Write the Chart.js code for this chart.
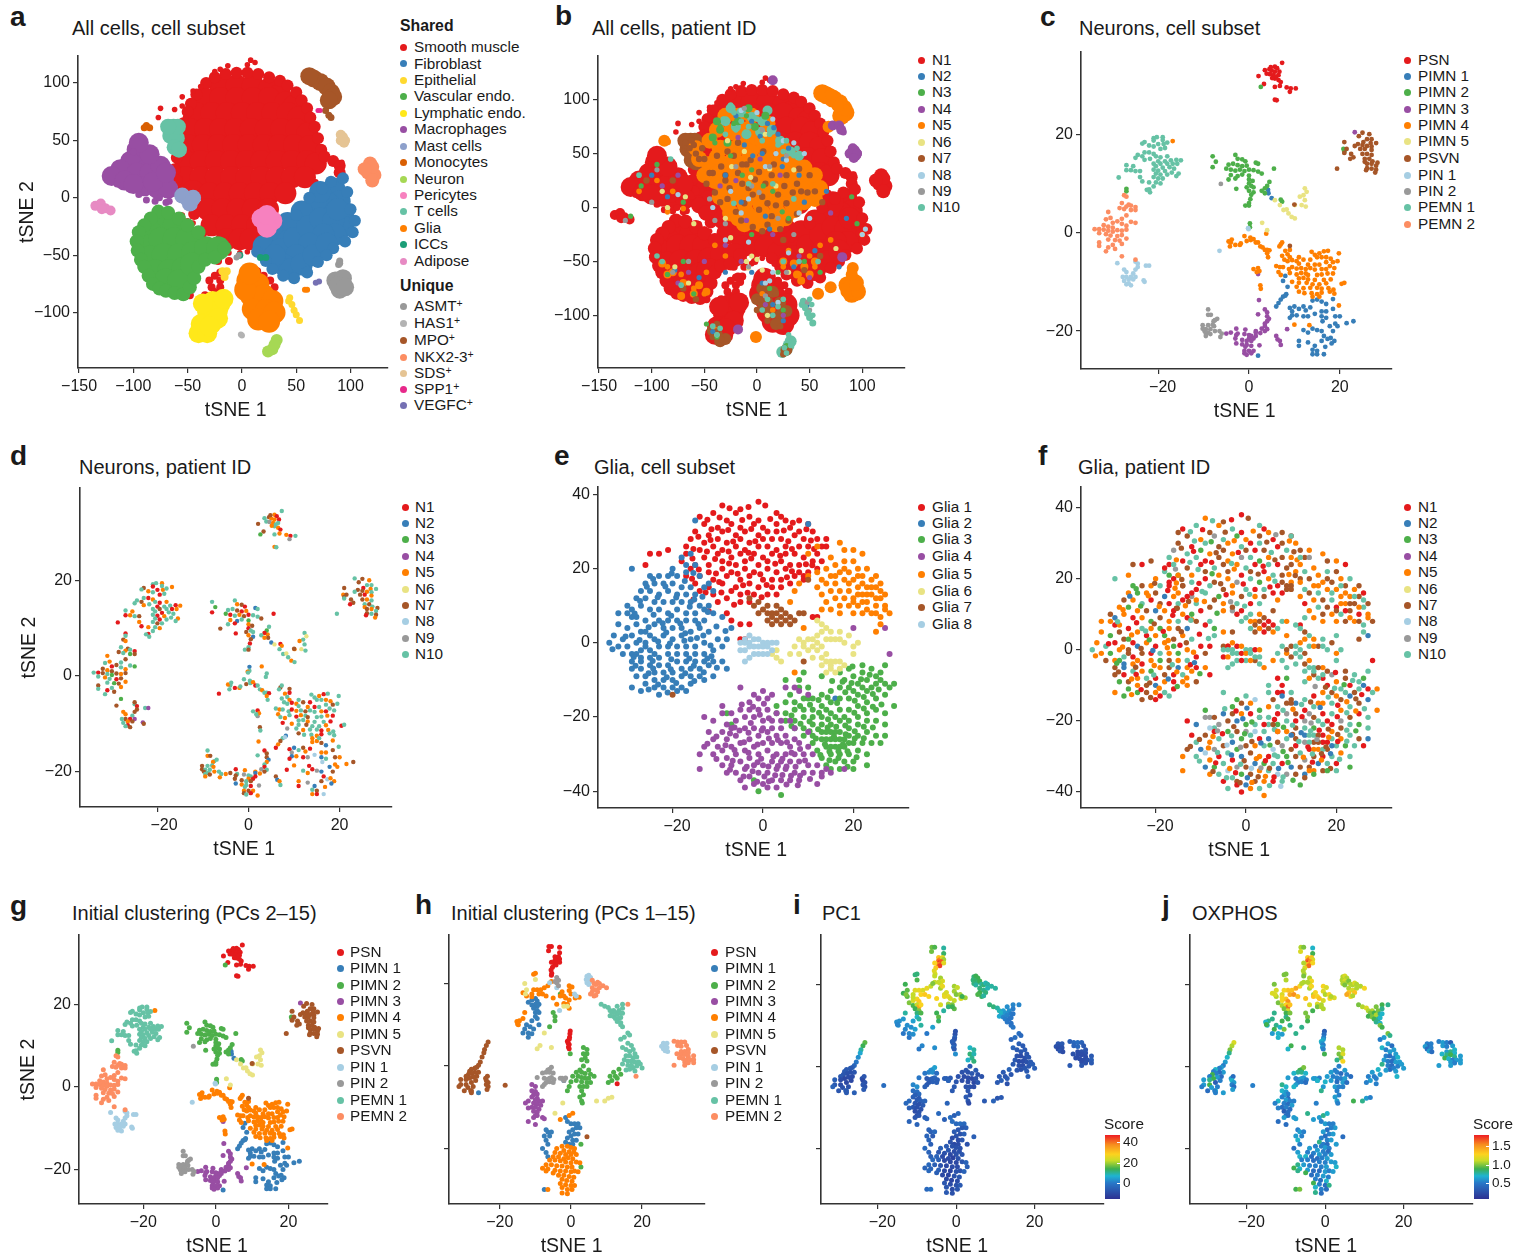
<!DOCTYPE html>
<html><head><meta charset="utf-8">
<script src="https://cdn.jsdelivr.net/npm/chart.js@4"></script>
<style>
html,body{margin:0;padding:0;background:#fff;width:1529px;height:1254px;overflow:hidden;font-family:"Liberation Sans",Arial,sans-serif;color:#1a1a1a}
canvas{position:absolute}
.t{position:absolute;white-space:nowrap}
.lt{font-size:20px}.ll{font-size:28px;font-weight:bold;line-height:28px}
.li{font-size:15.3px;line-height:18px}
.d{position:absolute;width:7px;height:7px;border-radius:50%}
sup{font-size:10.5px;line-height:0;vertical-align:4px}
</style></head><body>
<script>
/* ---------- colours ---------- */
const RED='#E41A1C',BLUE='#377EB8',GREEN='#4DAF4A',PURPLE='#984EA3',ORANGE='#FF7F00',KHAKI='#E9E383',BROWN='#A65628',LBLUE='#A6CEE3',GREY='#999999',TEAL='#66C2A5',SALMON='#FC8D62';
const patientColors=[TEAL,RED,BLUE,GREEN,PURPLE,ORANGE,KHAKI,BROWN,LBLUE,GREY];
/* ---------- labels ---------- */
const sharedLabels=['Smooth muscle','Fibroblast','Epithelial','Vascular endo.','Lymphatic endo.','Macrophages','Mast cells','Monocytes','Neuron','Pericytes','T cells','Glia','ICCs','Adipose'];
const sharedColors=[RED,BLUE,'#FFD92F',GREEN,'#FFE81A',PURPLE,'#8DA0CB','#D95F02','#A6D854','#F781BF',TEAL,ORANGE,'#1B9E77','#E78AC3'];
const uniqueLabels=['ASMT<sup>+</sup>','HAS1<sup>+</sup>','MPO<sup>+</sup>','NKX2-3<sup>+</sup>','SDS<sup>+</sup>','SPP1<sup>+</sup>','VEGFC<sup>+</sup>'];
const uniqueColors=[GREY,'#B3B3B3',BROWN,SALMON,'#E5C494','#E7298A','#7570B3'];
const patientLabels=['N1','N2','N3','N4','N5','N6','N7','N8','N9','N10'];
const patientLegendColors=[RED,BLUE,GREEN,PURPLE,ORANGE,KHAKI,BROWN,LBLUE,GREY,TEAL];
const neuronLabels=['PSN','PIMN 1','PIMN 2','PIMN 3','PIMN 4','PIMN 5','PSVN','PIN 1','PIN 2','PEMN 1','PEMN 2'];
const neuronColors=[RED,BLUE,GREEN,PURPLE,ORANGE,KHAKI,BROWN,LBLUE,GREY,TEAL,SALMON];
const gliaLabels=['Glia 1','Glia 2','Glia 3','Glia 4','Glia 5','Glia 6','Glia 7','Glia 8'];
const gliaColors=[RED,BLUE,GREEN,PURPLE,ORANGE,KHAKI,BROWN,LBLUE];
/* ---------- all cells (panels a, b) : x,y pairs ---------- */
const smCore=[-20,97,-5,98,10,98,25,95,35,90,-35,87,-20,87,-5,87,10,87,25,87,40,83,48,80,-42,74,-28,74,-14,74,0,74,14,74,28,74,42,74,52,70,-48,60,-34,60,-20,60,-6,60,8,60,22,60,36,60,50,60,60,56,-50,46,-36,46,-22,46,-8,46,6,46,20,46,34,46,48,46,62,45,-52,32,-38,32,-24,32,-10,32,4,32,18,32,32,32,46,32,60,32,68,30,-52,18,-38,18,-24,18,-10,18,4,18,18,18,32,18,46,18,58,18,-45,6,-30,4,-16,4,-2,4,12,4,26,4,40,4,-32,-10,-18,-10,-4,-10,10,-10,24,-10,-28,-24,-14,-24,0,-24,14,-24,-14,-36,-2,-36,8,-36];
const smRim=[-33,100,-25,105,-15,108,-5,109,5,109,15,108,25,105,35,102,42,98,50,92,55,85,60,78,63,70,67,62,70,52,73,42,76,36,84,32,90,28,90,22,-42,90,-47,82,-50,75,-54,65,-57,55,-59,45,-60,35,-62,25,-60,15,-56,6,-48,-5,-44,-14];
const smEdge=[8,120,12,118,-20,112,-13,115,5,116,-25,110,-38,97,-45,93,-55,88,-55,80,-62,77,-75,78,-77,70,-52,70,-45,-22,-55,-15,-50,-20,-40,-27,-35,-32,92,31,68,14,-12,-48,-2,-48,5,-47,-30,-41,-38,-42,-64,18,-62,8];
const smLower=[-20,-65,-25,-68,-30,-72,-28,-78,-25,-82,-20,-78,-15,-86,-18,-92,-28,-90,-34,-85,-20,-72,14,-64,20,-68,26,-72,30,-78,-12,-55,-22,-55,-48,-85,-66,-30,-50,-25,-40,-34];
const fibroCore=[85,8,90,-3,93,-15,93,-25,80,-5,68,-3,55,-12,42,-22,30,-33,20,-42,35,-45,48,-35,60,-25,72,-18,84,-20,86,-32,75,-32,62,-40,50,-50,38,-58,45,-62,55,-58,66,-50,30,-50,72,5,88,-10,78,-40];
const fibroEdge=[93,17,97,5,100,-10,104,-20,102,-30,95,-38,84,-44,78,-50,70,-56,60,-65,48,-70,38,-68,28,-62,22,-55,14,-47,32,-27,50,-15,62,0,82,14,74,8];
const vascCore=[-75,-22,-62,-24,-85,-30,-88,-42,-75,-36,-62,-36,-50,-36,-85,-52,-72,-50,-58,-50,-45,-48,-33,-44,-22,-44,-80,-64,-67,-64,-54,-62,-70,-72,-58,-73,-46,-58];
const vascEdge=[-77,-12,-68,-13,-84,-18,-90,-24,-95,-30,-97,-38,-96,-46,-93,-54,-90,-60,-86,-68,-82,-75,-76,-79,-70,-81,-62,-83,-54,-84,-48,-78,-44,-70,-40,-60,-34,-54,-25,-52,-16,-44,-58,-18,-50,-24,-40,-30];
const lymphCore=[-27,-90,-22,-98,-32,-100,-38,-110,-28,-110,-40,-118,-32,-118,-20,-93,-17,-88,-22,-105,-36,-92,-30,-112];
const epiSmall=[-16,-66,-14,-64,-18,-64,-16,-69];
const epiStrip=[43,-90,46,-93,48,-98,50,-102,53,-107,44,-87];
const gliaCore=[5,-72,15,-75,8,-85,20,-85,28,-90,10,-97,22,-98,30,-100,15,-106,25,-108,3,-80,7,-66];
const macroCore=[-97,42,-90,35,-103,32,-112,25,-97,22,-85,22,-75,28,-72,15,-120,19,-108,15,-90,10,-78,8,-68,8,-85,38,-100,12,-95,48,-82,14,-70,22];
const macroSmall=[-95,3,-88,-2,-80,-3,-70,-4,-67,-3,-76,0,-62,4,-100,40,-115,12];
const tcellCore=[-63,62,-66,54,-60,52,-62,44,-59,62,-58,42,-68,62];
const mastCore=[-50,-1,-45,0,-55,2,-48,-5];
const monoCore=[-88,63,-85,61,-90,61];
const mpoCore=[66,104,72,101,78,97,82,92,84,88,62,106,80,85];
const mpoSmall=[77,76,80,72,82,70];
const sppSmall=[72,76,70,76];
const sdsCore=[93,53,91,50,95,50,91,55,94,48];
const nkxCore=[118,30,116,22,122,20,120,27,113,25,120,15];
const adiCore=[-135,-7,-130,-5,-126,-9,-121,-11,-129,-10];
const asmtCore=[86,-72,93,-70,90,-80,88,-76,95,-78];
const asmtSmall=[90,-57,89,-58,90,-55];
const neuronCore=[28,-132,24,-134,32,-124,30,-128];
const has1Small=[0,-120,-1,-119];
const periCore=[18,-18,28,-20,23,-26,23,-15];
const vegfcSmall=[68,-74,71,-73];
const gliaDots=[58,-80,60,-80];
const iccDots=[17,-52,22,-52,-2,-50];
const greyDots=[-5,-52,-3,-50];
/* patient overlay (panel b) */
const b5Core=[-25,70,-10,72,-35,55,-20,55,-5,55,10,55,-45,40,-30,40,-15,40,0,40,15,40,30,40,-40,25,-25,25,-10,25,5,25,20,25,35,25,48,25,-35,10,-20,10,-5,10,10,10,25,10,40,10,50,15,-25,-5,-10,-5,5,-5,20,-5,35,-2,-12,-15,3,-15,18,-15,-15,62,0,65];
const b5Fill=[-38,47,-22,47,-7,47,8,47,23,47,-38,32,-22,32,-7,32,8,32,23,32,38,32,-32,17,-17,17,-2,17,13,17,28,17,43,17,-28,3,-12,3,3,3,18,3,33,3,45,5,-18,-10,-3,-10,12,-10,27,-10,5,62,15,62,25,55,35,45,45,37,55,30,60,18,55,8,-50,30,-55,45,-58,55,-45,62,-38,72,-30,85,-18,85,-5,85,10,78];
const b5Far=[90,-80,85,-78,95,-78,88,-72,93,-72,90,-62,91,-56,68,75,75,102,80,98,84,90,70,105,77,94,58,-80,70,-74,-1,-120,-88,62];
const b5Lower=[-90,-52,-80,-60,-70,-70,-60,-80,-55,-72,-85,-62,-48,-78,-72,-82,25,-50,35,-52,45,-55,50,-62,42,-68,55,-50,38,-62];
const b7Mix=[5,-75,15,-78,10,-88,22,-88,28,-96,12,-98,22,-100,-38,-118,-42,-114,-35,-124,-30,-122,28,-132,0,-85,18,-108,6,-92];
const b10Top=[-25,92,-15,88,-5,84,5,80,-30,80,-20,75,-10,68,3,70,14,72,22,62,32,52,40,48,10,90];
const b3Top=[-35,72,-42,65,-28,60,-38,80,-18,80,-8,92,-2,75,8,85];
const b4Far=[92,52,88,50,95,50,92,46,72,76,78,76,80,72,15,118,-18,-113,81,-46];
const b5Dots=[-85,-55,-72,-62,-60,-75,-50,-80,25,-55,40,-62,55,-55,50,-45,-40,-35,-95,25,-80,15,-70,-1,15,-95,5,-80,-40,-112,-30,-45,-48,-60,60,-35,70,-30,100,-25,30,-40,-85,-4,-112,15];
const b2Dots=[-20,85,-5,80,10,78,20,68,30,55,-30,30,5,50,25,45,40,30,-15,5,8,-8,45,5,-78,-58,-55,-65,5,-70,15,-90,25,-105,35,-55,55,-40,85,-10,-100,30,-30,-60,-42,-115,-85,10,48,-90,-5,-60,66,15,78,-55,12,-20,16,74,3,66,-12,58,24,38,-4,48];
const b3Dots=[-35,75,-22,78,-10,85,-40,60,-25,48,-5,35,15,15,30,-10,-5,-25,-70,-50,-85,-62,-60,-80,12,-75,25,-95,-38,-120,45,-50,60,-60,-95,40,-110,20,-70,5,90,10,95,-15,20,-60,-120,-8,28,-128,-48,-108,-14,30,6,20,24,-4];
const b4Dots=[-18,65,3,45,22,30,-35,20,-10,-12,15,-25,-75,-70,-50,-50,8,-90,40,-45,-90,20,-75,30,70,-5,-30,-35,50,-65,-20,25,25,-100,-65,-60,-15,-50];
const b6Dots=[-28,62,-12,52,8,68,18,20,35,35,-30,-10,-5,-45,-10,-50,-8,-56,0,-48,-78,-55,-65,-70,-90,15,-85,0,-68,10,5,-58,30,-60,10,-100,42,-40,-60,-15,-25,-28,-38,-118,75,-38,-6,28,12,36,-24,38];
const b7Dots=[-50,45,-42,32,-30,25,-18,32,-8,18,5,10,18,2,30,-12,42,15,50,30,-35,5,-15,-12,5,-22,25,-30,-62,62,-64,55,-58,50,-66,48,-60,58,-55,45,-68,60,-52,55,-38,-115,-34,-122,-42,-120,-38,-108,0,-95,10,-105,22,-110,18,-80,28,-95,3,-85,60,-45,45,-58,-70,-75,-58,-85,-80,25,-105,25,55,15,62,5,30,-132,25,-136,-22,48,-10,40,2,33,14,30,26,20,38,22,-28,8,-12,4,2,-2,14,-8,28,4,-40,14,-45,32,-34,38,-26,18,-14,22,-4,12,8,22,20,12,34,14,-20,-4,-4,-18,10,-16,22,-20,-6,44,6,52,-18,60,-28,52,-38,48,16,40,28,30,40,36,48,14,38,-6,-30,30,-48,22,-14,40,-2,26,10,4];
const b8Dots=[-15,90,0,88,15,82,25,62,35,60,45,50,-25,15,-15,-5,40,-5,50,-10,15,-60,8,-70,20,-88,100,-25,103,-20,-75,12,-42,0,-30,-30,-8,-32,12,-68,30,-42,18,50,28,44,8,38,-8,8];
const b9Dots=[-12,92,5,72,28,48,-5,20,20,-10,-40,-12,-80,-60,-65,-50,-125,-12,-100,5,8,-82,28,-60,48,-88,50,-95,-95,35,-8,-55,12,38,-45,8,35,-25,-20,38,2,14,-30,-15];
const b10Dots=[-25,95,-22,88,-15,80,-8,75,0,82,5,62,12,68,20,58,25,52,35,48,38,55,28,62,-32,82,-30,68,-20,72,52,-90,50,-85,46,-92,53,-100,49,-97,15,-100,20,-92,10,-85,5,-95,25,-85,30,-118,28,-135,26,-130,32,-128,-42,-110,-38,-118,-35,-112,40,-50,58,-50,25,-50,-95,-45,-90,-50,-72,-72,-112,30,-82,45,-8,22,15,22,-22,4,35,8];
/* ---------- neurons, embedding of c, d, g : x,y pairs ---------- */
const nPSN=[7.3,34.5,5.7,33.7,6.2,33.4,4.5,33.2,3.5,33,5,32.9,5.7,32.7,6.7,32.7,3.9,32.3,4.6,32.2,5.4,32,6.5,32,2.1,31.8,5.7,31.3,6.5,31,7,30.6,3.3,30.2,5.7,29.6,6.8,29.8,8.3,29.5,9.2,29.3,10.3,29.3,9,28.6,5.7,27,6.1,26.9,4.8,33.6,6,31.7,5.1,31.4];
const nPIMN1=[4.2,8.7,4.3,8,5,7,8,-8.8,7.5,-9.8,8.5,-11,8.2,-12.5,7.5,-13,7,-13.6,6.5,-14.3,6,-15,8,-12.8,14,-13.8,15,-13.6,16,-14,17,-14.5,18.5,-13.5,9,-15.3,9.5,-16,10,-15,11,-15.5,12,-15,12.5,-15.8,13.5,-15.2,14.5,-16.5,16,-16,17,-16,18.5,-15.5,9.5,-16.8,10.5,-16.8,12,-17,13,-17,16,-17,17,-17.3,19,-17,20,-17,9,-17.3,16.2,-18,19,-18.5,21.5,-18.4,23,-18,17.8,-19,19.5,-19,14,-19.5,15,-19.8,16,-20,12,-19.8,18.5,-20,13,-20.3,16.5,-21,17.3,-21.6,18,-21.4,18.8,-22,16,-22,18.2,-22.5,11,-22,11,-23,13,-22.3,14.5,-23,14,-23.8,15,-24,14,-24.7,15,-24.7,16.5,-24.7,16.8,-23.2,2,-25];
const nPIMN2=[-8,15.5,-7.3,14.4,-8,13.3,-3,15.8,-2.5,15,-1.5,14.9,-0.8,14.5,-3.5,14,-4.5,13.8,-2.5,13.7,-1.5,13.5,-0.5,13.6,1.5,14.2,2,14,-5,13,-4,12.8,-3,12.6,-2,12.8,-1,12.5,0,12.8,1,12.7,2,12.4,2.8,12,5.5,13,-4,11.7,-2.5,11.5,-1.5,11.8,0,11.6,-3,11,-4.5,10.8,0,10.8,0.8,10.5,0,10,0.5,9.5,1,9.2,-0.5,9.2,-2.8,8.9,0,8.5,1,8.2,4.5,10.3,4,9.5,3.5,9,2.8,8.5,3.5,8,0.5,7.7,0.3,6.8,0,6,-0.8,5.5,0,5.5,7,6.7,7.3,6.3,0.2,1.9,0.2,1.1,2.6,29.6,-27,8.9,-27,8.4,20.8,17,21,16.5];
const nPIMN3=[2.2,-13.7,3.5,-15.6,4,-16.2,2,-16.6,4,-17,4.4,-17.5,4,-18,3.5,-18.5,3.5,-19,2.8,-19.5,4,-19.6,1.5,-20,3.5,-20,-0.8,-19.7,-2.8,-19.5,-4,-20.3,-2.5,-20.5,-2.8,-20.8,1.5,-20.3,2.5,-20.4,0.5,-21,1.5,-21,-1,-20.6,0,-20.8,-5,-20.5,-3,-21.5,0,-21.5,1,-21.5,-1.5,-21.8,-0.5,-22,0.5,-22,-2.8,-22.5,-1.5,-22.7,-0.5,-22.8,0.5,-23,2.3,-22.9,-0.8,-23.2,-1,-24,0,-24,1,-24,0.5,-24.5,-1,-24.5,-0.5,-24.8,6,-21,6.3,-21.7,6.8,-22,7,-22.8,8.4,-19.6,2,-8.4,23.3,20.4];
const nPIMN4=[-4,-2,-4.5,-1.8,-3.8,-1.4,-4.2,-2.8,-3,-2.5,-2,-2.5,-1.8,-2.2,-0.5,-1.7,0.3,-1,0.4,-1.5,1,-1.3,1.5,-2,2,-2,2.5,-2.8,3,-3,3.5,-3.5,4,-3.5,4.5,-3.6,4,-4.2,4.2,-5,7,-2.4,7.3,-2,6.7,-2.8,8,-3.7,9,-3.5,8.5,-4.4,7.3,-4.7,9,-5,7.8,-5.5,8.5,-5.8,9.5,-5.6,10.5,-5.8,11,-5,12,-5.5,13.8,-3.9,14.5,-4.5,15.5,-4.2,16.5,-3.8,17.4,-3.7,19.8,-4.2,17,-5,16,-5,15,-5,13.5,-5.5,18,-5.3,17,-6,18.5,-6,19.5,-5.8,11,-6.3,13,-6.5,14.5,-6.5,15.5,-6.5,6,-6.8,6.8,-7,7.5,-7,8.8,-7.4,9.5,-7,10.5,-7.3,11.5,-7.2,12.5,-7.4,13.5,-7.2,14.5,-7.5,16,-7.4,17,-7.4,17.8,-6.8,18.8,-7.2,6.5,-8,7,-8.6,9,-8.2,10.5,-8.5,11.5,-8.2,12.5,-8.3,13,-8.6,15,-8.6,16,-8.5,17.3,-8.3,18.5,-8.3,11,-9.3,12,-9.2,13,-9.5,14.5,-9.6,16.5,-9.6,18,-9.5,9.5,-10,11,-10.2,12.7,-10.2,14,-10.5,15.5,-10.5,17,-10.3,20.4,-10.4,21,-10.2,10.5,-11,12,-11.3,13.5,-11.2,15,-11.2,16,-11.4,17.5,-11.3,18.6,-11.6,11,-12,12.2,-12.3,13.8,-12.3,15,-12.5,16,-12.2,17.8,-12,18.8,-12.4,14,-13,15.5,-13,1,-7.4,2,-7.2,2.3,-7.8,1.7,-8,2.5,-10.7,2.6,-11.4,19.8,-14.8,10,-18.7,13.3,-18.8,-1,-0.7,3.8,-0.2,-16.8,18.6];
const nPIMN5=[12.3,9,12.7,8.3,12,7.6,11.2,7.3,12.3,6.6,11.6,5.6,12.5,5.3,10.1,5.6,7.6,4.6,8.3,4.7,8.7,3.9,9.4,3.2,10.1,2.9,5.7,6.6,6.8,5.6,2.9,2,4,0.5];
const nPSVN=[25,20.3,26.5,20,27,19,24.2,19.6,26,19,21,18.4,25.2,18.4,26.8,18.2,28,18.2,24,18,25,17.8,26,17.6,27,17.5,21.5,17,23.3,17.6,24.5,17,25.5,17,27,16.8,21,16.2,22.5,16,25,16,26,16,27,15.8,23,15.3,25.5,15,26.5,15,22.3,15,25.5,14.4,27.2,14.5,28.3,14.2,26,14,27,14,28,13.6,26,13.1,27,13,28,12.8,25.8,12.7,27.8,12.2,19.4,13,10,5.7,9,-2.7];
const nPIN1=[-29,-6.2,-27.5,-7.5,-25,-5.9,-24.5,-6.3,-24.5,-7,-22.7,-6.7,-22,-6.7,-25,-7.5,-27,-8,-25.5,-8.3,-26,-9,-27,-9,-27.8,-9,-25,-9,-25.5,-9.5,-26.5,-9.5,-27.5,-9.8,-26.5,-10.3,-26,-10.7,-27,-10.5,-23.2,-9.7,-23,-10,-0.2,0.9,-0.1,0.7,-6.5,-3.7];
const nPIN2=[-9,-15.6,-9,-16.7,-8.4,-16.7,-7,-17.5,-7.5,-17.8,-7.8,-18,-10.2,-18.8,-9,-18.8,-8,-18.7,-7.7,-19,-10.2,-19.5,-9.5,-19.6,-8.5,-19.6,-7.5,-20,-9.8,-20,-9,-20.3,-9.5,-20.5,-9.5,-21,-8.5,-20.6,-6.5,-20,-6,-20.5,-6.3,-21.2,-6.2,9.9];
const nPEMN1=[-21,19.2,-20.3,19.4,-21,18.7,-19,19.4,-19,18.8,-23,18.4,-23.5,18.1,-20,18,-18.8,18,-18,18.3,-22,17.7,-21,17.5,-19.5,17,-18.5,17.2,-23,16.3,-22,16.3,-21,16,-24.5,15.8,-23.5,15.5,-20.5,15.5,-19.5,15.3,-18,15.5,-25,15.2,-23,14.8,-21.8,15,-20,14.5,-18.5,14.5,-17.2,14.7,-16,14.8,-15,14.7,-21,14,-19.5,14,-18,14,-16.8,14,-15.8,14,-27,13.7,-25.5,13.5,-20.5,13.5,-19,13.2,-17.5,13.3,-16.5,13,-27,12.7,-26,12.7,-25,12.5,-24,12.5,-21,12.8,-20,12.6,-18.5,12.5,-17,12.2,-15.5,12,-20.5,12,-19.5,11.8,-18,11.8,-16,11.5,-28.7,11.2,-24,11.3,-21,11.3,-20,11,-19,11,-23.5,10.4,-22,10.2,-20.5,10.2,-19.5,10,-21,9.4,-22,8.8,-22.5,8.7,-21.8,8.2];
const nPEMN2=[-27.5,7.6,-27,7.3,-26.5,5.7,-28,6,-27,5.3,-26,5.5,-25,5.2,-28.5,5,-27.5,4.8,-26,4.6,-25,4.6,-31,4.2,-27,3.5,-28,2.8,-30.5,3,-31.5,2.7,-30,2,-29,2.3,-26,2.2,-25,2,-32,1.5,-31,1.2,-30,1,-28,1.8,-27,1.4,-34,0.7,-33,0.7,-32,0.6,-31,0.4,-30,0.2,-29,0.5,-28,0.4,-27,0.6,-33,-0.1,-31.5,-0.3,-30.5,-0.6,-29,-0.7,-28,-0.5,-31,-1.4,-29.5,-1.5,-28.5,-1.6,-27,-1.2,-33,-2,-30,-2.5,-28,-2.3,-33,-2.7,-31,-3,-29.5,-3.3,-31.5,-3.8,-28,-4.8,-25,-5.5];
/* patient sequences per neuron subset (digit 0 = N10) */
const pPSN='0517055109507';const pPIMN1='5725192075185';const pPIMN2='0310571007152';const pPIMN3='5170725019057';const pPIMN4='0500150700510';const pPIMN5='0605';const pPSVN='7507071507';const pPIN1='7501704';const pPIN2='0570';const pPEMN1='0015070150501';const pPEMN2='7570501703';
/* ---------- neurons, embedding of h, i, j : x,y,PC1,OXPHOS ---------- */
const hPSN=[-6.2,29,17,1,-5.5,29,15,.9,-6.3,28,17,1.1,-3.2,28.8,10,.6,-3.2,27.5,13,.8,-4.5,26.5,30,1.2,-4,26.2,35,1.5,-3.5,26.5,25,1.3,-3.2,26,20,1.1,-4.5,25.7,40,1.6,-4.2,25.3,45,1.7,-3.8,25.5,42,1.5,-3.2,25.2,25,1.2,-4.6,24.8,38,1.3,-4.2,24.5,44,1.6,-5.5,25.2,28,1,-5.2,24,30,1.1,-5.6,23.3,25,1,-5.4,22.5,24,1,-5.5,22,22,.9,-.2,8.5,-8,.2,-.3,7.8,-8,.3,-.4,7,-5,.4,-.5,6.5,-7,.5,-1,6,-5,.6,-.8,5.6,-5,.5,-.5,5.2,-6,.4,-.7,4.6,-3,.5,-.5,4.2,-6,.4,13,-4.3,-8,.4];
const hPIMN1=[-12,15.5,18,.9,-11,16,24,1.2,-10,16.4,27,1.3,-9.5,15.8,30,1.5,-11,14.8,15,1,-10,15,22,1.2,-9.5,14.5,34,1.6,-10.5,14,14,.9,-9.5,13.5,18,1.1,-10,13,12,.8,-9,15,28,1.3,-9,13,15,.9,-10,12,8,.7,-9.5,11.5,10,.8,-11,11,5,.8,-12.5,10,3,.7,-11.5,9.5,3,.6,-13,9,2,.8,-13.5,8,0,.5,-12,8,2,.6,-11,7.8,3,.5,-12,7,0,.6,-10.5,9,5,.9,-9,10,10,.7,-7,-15.5,-4,.4,-6.5,-16,-5,.5,-6,-17,-6,.4,-7.5,-17,-4,.5,-7,-18,-4,.6,-5.5,-16,-3,.4,-6.5,-19,-5,.4,-8,-20,-3,.3,-7,-21,-4,.5,-6.5,-22,-5,.6,-1.5,-12.5,-2,.5,-1,-13.5,-2,.4,0,-14,-3,.5,1,-14,-2,.4,2,-14,-3,.4,2.5,-15,-5,.5,1.5,-15,-6,.4,.5,-15.5,-7,.3,-.5,-16,-6,.5,1,-16.5,-8,.4,2,-16.5,-5,.5,0,-17,-8,.3,-1,-17.5,-9,.4,.5,-18,-9,.4,1.5,-18,-7,.5,-1.5,-18.5,-8,.7,-.5,-19,-10,.4,.5,-19,-9,.3,-7.5,-30,-3,.8,-2,-3.5,-5,.5,-26,-6.5,-5,.5];
const hPIMN2=[3.5,4.5,8,1,4.5,4,10,1,3.5,3,12,.9,4.5,3,9,1.1,4,2,11,.9,3,1.5,8,.7,4.5,1.2,12,1.2,-.2,3,3,.8,-5,13,14,.9,-4.5,12,16,.9,-4.5,11,13,.8,-6,9.5,5,.7,-3,17.5,24,1,3.5,0,-6,.4,2.5,-1,-7,.4,5,-1,-6,.5,1.5,-1.5,-8,.5,3,-1.5,-8,.4,4,-1.8,-7,.3,5.5,-2,-8,.4,.5,-2.5,-8,.5,2,-2.5,-9,.4,3,-2.8,-9,.4,4,-3,-10,.4,5,-3,-8,.5,6.5,-2.5,-8,.3,0,-3.8,-7,.6,1.5,-3.5,-9,.5,3,-3.8,-9,.3,4.5,-4,-10,.5,5.5,-4,-7,.3,-.5,-5,-6,.5,2.5,-5,-8,.5,3.5,-5,-8,.4,4.5,-5,-9,.4,-1,-6,-6,.7,3,-6,-7,.4,3.5,-7,-8,.4,2.5,-7.5,-6,.5,3,-8.5,-7,.5,3.2,-9,-9,.4,11,-2.5,-6,.4,12,-1.5,-6,.5,12.5,-2.5,-7,.4,11.5,-3.5,-5,.5,13,-3,-6,.4,14,-2,-7,.5,10.5,-4,-6,.4,13.5,-.8,-4,.6,2.8,-19,-8,.5,2.8,-24.5,-5,.6];
const hPIMN3=[-11,-4.5,2,.7,-10,-5,3,.6,-11,-6,-2,.6,-10,-6.2,-2,.5,-9.5,-6.8,-3,.4,-10.5,-7,-5,.5,-11,-7.5,-5,.4,-9.5,-7.8,-6,.3,-10,-8.2,-6,.5,-9,-8.5,-5,.4,-8,-8.5,-4,.4,-12,-8.5,-3,.6,-10.5,-9,-7,.4,-9.5,-9.3,-8,.3,-8.5,-9.5,-6,.5,-12.8,-9,-3,.4,-11,-10,-7,.3,-10,-10,-8,.4,-9,-10.5,-8,.3,-10.5,-11,-9,.2,-9.5,-11.2,-8,.3,-12,-10.2,-5,.4,-10,-12,-9,.3,-9.5,-12,-7,.3,-10.5,-12.5,-7,.5,-8,-12.5,-5,.5,-7.5,-12.8,-4,.5,-12,-13.5,-4,.3,-10,-14.2,-4,.3];
const hPIMN4=[-10,22.5,12,.9,-10.5,22.3,12,.9,-5.5,20.5,22,1,-6.5,19.5,22,1.2,-7.5,19,26,1.4,-8.5,18.5,24,1.3,-9.5,18.5,26,1.3,-10.5,18.5,25,1.2,-9,17.5,28,1.4,-8,17.5,30,1.5,-11,17.5,22,1.1,-12.5,17,16,1,-11,16.8,22,1.2,-13.5,17.8,14,1.1,-7,17,28,1.3,-5,16.5,28,1.3,-4,15,24,1.1,-3,17,26,1.3,-2.5,18,24,1.2,-2,17,26,1.2,-.5,19.5,20,1.2,.3,19.2,22,1.1,-.5,18.3,20,1.1,0,17.5,18,1,-1.5,16.5,24,1.3,-.5,16,22,1.1,1.2,16.5,24,1.2,2.3,16.7,20,1.1,-2,15.2,20,1.1,-1,15,18,1,-.5,14,16,1,-13,13,10,.7,-14.5,11,3,.7,-15.2,10.8,3,.6,-14.8,10,3,.6,-13.5,11.5,4,.7,-15,10.2,2,.8,-3,-13,-5,.5,-.5,-12,-5,.7,-2.5,-19.5,-6,.4,-1,-19.5,-8,.4,0,-19.8,-8,.5,1,-20,-8,.4,-4,-20,-5,.5,-2,-20.5,-7,.5,-.5,-20.8,-9,.4,.8,-20.8,-8,.3,-4.5,-21,-7,.4,-3,-21.2,-8,.4,-1.5,-21.5,-10,.5,0,-21.5,-8,.4,1.5,-21.5,-7,.5,-5,-22,-4,.6,-3.5,-22,-9,.3,-2,-22.5,-9,.3,-.8,-22.3,-11,.4,.5,-22.5,-8,.5,-6,-22.8,-3,.4,-4.5,-22.8,-5,.4,-3,-23,-10,.3,-1.5,-23.3,-10,.4,0,-23.5,-10,.4,1.5,-23.3,-7,.5,2.5,-23.5,-4,.5,-7,-24,-3,.7,-5.5,-24,-5,.5,-4,-24.2,-8,.4,-2.5,-24.3,-10,.4,-1,-24.5,-9,.4,.3,-24.5,-9,.5,-8,-24.8,-4,.8,-6.5,-25,-4,.6,-4.5,-25.3,-5,.5,-3,-25.5,-10,.3,-1.5,-25.5,-11,.3,0,-25.7,-8,.5,1,-25.5,-8,.4,-7,-25.5,-3,.7,-5,-26,-5,.8,-3.5,-26.5,-10,.3,-2,-26.5,-11,.4,-.5,-26.8,-8,.5,.8,-27,-7,.4,2,-25.7,-4,.5,-2.5,-27.5,-10,.4,-1.2,-27.8,-11,.3,.3,-28,-9,.6,-3,-28.5,-7,.8,-1.5,-28.8,-9,.4,0,-29,-8,.3,1,-29,-6,.7,-2.5,-29.5,-7,.6,-1,-30,-9,.4,.3,-30,-7,.3,-6.5,-30,-1,.9,-2.5,-30.8,-6,.7,-1,-31,-8,.3,.5,-11.5,-3,.6];
const hPIMN5=[-7.5,8,.5,.7,-8.7,5,2,.8,-9.5,4.2,0,.6,-5.5,4.5,3,.7,-2.3,-9,-4,.4,-4.5,-11.5,-3,.7,7.2,-8.5,-6,.8,9.5,-8.5,-4,.7,10.5,-7.8,-7,.5,11.5,-7.6,-6,.4,-13,20,14,.9,-12.5,18.5,16,1.1,-12.8,17.5,18,1.1,-10,21,15,1,-2,14.5,12,.9,-1,14.5,14,1];
const hPSVN=[-23.3,5.8,16,1.1,-23.8,5,14,1,-24.3,4,10,.9,-24.5,3.2,6,.7,-25,2.2,3,.6,-25.5,1,0,.5,-26,.2,-3,.4,-26.5,-.3,-5,.5,-27,-.5,-6,.4,-28,-.8,-6,.6,-28.5,-1.3,-6,.4,-26,-1.5,-7,.5,-27,-1.5,-8,.3,-27.8,-1.8,-8,.4,-28.8,-2,-7,.8,-29.5,-2.5,-6,.4,-26.5,-2.5,-9,.3,-27.5,-2.7,-9,.5,-28.5,-3,-10,.8,-29.5,-3.3,-9,.7,-31,-3.3,-5,.5,-26.8,-3.5,-10,.4,-28,-4,-10,.2,-29.5,-4.5,-9,.8,-31,-4.5,-6,.5,-27.5,-5,-8,.4,-29,-5.2,-8,.5,-31.5,-5,-4,.4,-28,-6,-5,.6,-28.2,-6,-6,.4,-30,-6,-7,.3,-28,-6.5,-6,.4,-24,-3,-8,.5,-23.5,-2.5,-7,.3,-23.8,-3.5,-10,.6,-23.3,-4,-8,.5,-23.8,-4.5,-7,.4,-23.3,-5,-8,.3,-23.6,-5.7,-6,.5,-18.5,-4.7,-2,.4,4.5,-17.2,-5,.3];
const hPIN1=[4.5,21.8,12,1,5,22,14,1.1,5.5,21.5,14,1,4.3,21,12,1,5,20.8,13,1.1,5.5,20.5,12,1,4.5,20.2,12,1,5,19.8,10,.9,-6,20.2,18,1,-4,19,20,1,1,17.5,20,1.2,1.5,17,14,1,-3.2,13.5,10,.8,26,5.5,-7,.4,26.5,5,-8,.3,27,5.5,-6,.4,25.5,4.8,-8,.5,26,4.2,-9,.3,27,4.5,-8,.4,26.5,3.7,-7,.5,27.2,3.5,-9,.3];
const hPIN2=[-6,-.8,4,.8,-5.5,-.3,5,.9,-6.5,-1,3,.8,-7,-1.5,2,.7,-8,-1.7,0,.6,-6,-1.5,3,.7,-5,-1.7,-2,.6,-9.5,-2.8,0,.5,-5.5,-2.8,-3,.5,-6,-3,-4,.5,-4.8,-3.3,-5,.4,-6.5,-3.2,-5,.5,-7.5,-3,-6,.4,-6,-3.8,-5,.4,-5,-4,-5,.3,-7,-4,-6,.4,-7.5,-4.5,-6,.5,-8,-5,-5,.6,-2.5,-3,-5,.5,-1.5,-2.9,-6,.4,-2,-3.5,-4,.6,-3,-3,-5,.5,-4,21.5,20,1,-3.5,20.8,24,1.2,-4,20.2,24,1.1,-4.5,20.5,22,1,-3.5,19.5,26,1.2];
const hPEMN1=[8.5,15,12,.9,9.5,14.5,12,1,10.5,14.2,10,1.1,11,13.5,9,1,12,13.5,5,1,13,14.5,3,.9,14.5,15,2,.8,11.5,13,8,.9,12.5,13,4,.8,13.5,13.5,3,.9,14.5,14,1,.7,11,12.2,6,.8,12,12,2,.9,13,12.5,2,1,14,12.8,1,.7,14.5,12.8,0,.6,12.5,11.5,1,.8,13.5,11.5,0,.7,14,11.8,0,.6,13,10.8,0,.7,14,10.5,-1,.6,14,10,-1,.9,14.5,9.5,0,.8,16,8,-2,.9,16.5,7.5,-3,.7,15,7,-2,.5,14,6.5,-4,.4,16,5.5,-5,.5,17,5,-6,.3,14.5,4.5,-4,.6,15.5,4,-6,.4,16.5,3.5,-7,.5,17.5,4,-6,.5,18,3,-7,.5,15.5,2.5,-8,.4,16.5,2.5,-9,.3,17.5,2,-8,.4,18.5,2.2,-7,.6,15,1.5,-6,.5,16,1.2,-9,.4,17,1.2,-9,.3,18,1,-8,.5,19,1,-6,.5,14.5,.5,-6,.7,16,.2,-8,.4,17,.2,-9,.3,18.5,0,-7,.4,20,-.5,-5,.5,19.5,.5,-5,.5,16.5,-.8,-8,.3,17.5,-.5,-7,.4,18,-1.2,-6,.5,15.5,-1,-7,.5];
const hPEMN2=[6,20.8,14,.9,6.5,20,10,1,7,19.8,12,1,7.5,20.3,9,1.1,8,20,10,1,9,19.5,10,1,10,19,10,1.2,6,19,12,1,7,18.5,11,1.1,8,19,9,1,7.5,18,12,1.3,6,18,14,1.3,6.5,17,13,1.2,5.5,17.5,15,1.4,7,17.2,10,1,16,15,2,.7,18.3,-2.5,-5,.6,29,6,-5,.4,30,5.8,-3,.5,31,5.8,-2,.4,32,5.8,-4,.2,32.5,5,-6,.5,30,5,-4,.5,31,4.8,-3,.4,33,4,-7,.6,31,3.5,-9,.5,32,3.5,-8,.7,33,3.2,-8,.6,29.8,3,-8,.6,31,2.8,-9,.7,32,2.8,-9,.8,33,2.3,-9,.7,34.5,2.5,-6,.5,30.5,2,-9,.8,31.5,1.8,-9,.6,32.5,1.5,-9,.4,33.5,1.5,-8,.5,34.5,1.5,-5,.5,32,1,-9,.5,33,.8,-8,.4,34.5,.8,-6,.5,29,.2,-6,.5,32,.2,-7,.5];
/* ---------- glia, embedding of e, f : x,y pairs ---------- */
const g1=[-9,37,-5,36,-1,38,0.5,37,-14,34,-11,35,-8,33,-6,35,-3,34,-1,33,3,35,4,34,-13,32,-10,31,-7,32,-5,31,-2,32,0,31,3,32,5,33,8,33,10,32,-15,30,-12,29,-9,30,-6,29,-4,30,-1,29,1,30,3,30,6,31,8,30,11,30,-16,28,-13,27,-10,28,-8,27,-5,28,-3,27,0,28,2,28,4,28,7,29,9,28,12,28,14,28,-17,26,-14,25,-11,26,-9,25,-6,26,-4,25,-1,26,1,26,3,25,5,26,8,26,10,26,13,26,-17,24,-13,23,-10,24,-7,23,-5,24,-2,24,0,23,2,24,5,24,7,24,9,23,12,24,14,26,-18,22,-15,21,-12,21,-9,22,-6,21,-4,22,-1,21,1,22,4,22,6,21,8,21,11,22,13,22,-16,20,-12,19,-9,20,-7,19,-4,20,-2,19,1,20,3,19,5,20,8,19,10,19,12,20,-17,18,-14,18,-11,17,-8,18,-5,17,-3,18,0,17,2,17,4,17,7,18,9,17,-15,16,-12,15,-9,16,-6,15,-3,16,-1,15,2,15,4,15,6,16,9,18,-14,14,-11,13,-7,14,-5,13,-2,13,1,13,3,13,-10,11,-8,12,-5,11,-3,11,-8,8,-7,6,-5,5,-3,5,-26,21,-25,24,-23,24,-21,25,12,7,11,7,-5,1,-4,1];
const g1b=[-7.4,36.3,-3.2,36.6,-12.3,33.2,-9.6,33.8,-4.6,33.1,1.6,33.4,6.6,32.4,-11.4,30.6,-7.7,30.4,-2.6,30.7,4.6,30.3,9.6,30.6,-14.3,28.6,-11.6,27.7,-6.6,27.3,-1.7,27.4,5.6,27.4,10.6,27.6,-15.4,25.3,-12.4,24.6,-7.6,24.6,-3.2,24.3,3.8,23.5,6.4,25.3,11.3,25.3,-15.6,22.7,-10.6,22.6,-7.5,21.4,-2.6,22.7,2.7,21.3,9.5,21.2,-14.2,19.8,-10.4,18.7,-5.6,18.6,-0.6,18.5,6.4,19.3,10.9,20.9,-15.7,17.3,-9.7,16.4,-4.4,15.5,0.8,15.6,5.3,17.7,-12.7,13.6,-9.2,13.6,-3.4,13.5,-0.3,12.3,-6.4,10.3,-12,8.5,-15.4,11.7];
const g2=[-30,8,-29,7,-32,5,-30,4,-28,5,-33,2,-31,1,-29,2,-27,3,-25,2,-34,0,-32,-1,-30,-1,-28,0,-26,0,-24,1,-22,2,-20,1,-18,2,-16,1,-31,-3,-29,-3,-27,-2,-25,-2,-23,-1,-21,-1,-19,-1,-17,-1,-15,-1,-13,0,-29,-5,-27,-5,-25,-4,-23,-4,-21,-3,-19,-3,-17,-3,-15,-3,-13,-3,-11,-2,-29,-7,-27,-7,-25,-6,-23,-6,-21,-6,-19,-5,-17,-5,-15,-5,-13,-5,-11,-5,-9,-5,-28,-9,-26,-9,-24,-8,-22,-8,-20,-8,-18,-7,-16,-7,-14,-7,-12,-6,-26,-11,-24,-10,-22,-10,-20,-10,-18,-9,-16,-9,-14,-9,-24,-12,-22,-12,-20,-12,-18,-12,-16,-11,-23,-14,-19,-13,-17,-13,-29,-12,-27,-13,-13,-10,-11,-9,-29,9,-27,10,-25,9,-23,9,-21,8,-19,9,-17,8,-15,8,-13,9,-11,8,-9,7,-7,4,-28,12,-26,12,-24,11,-22,11,-20,11,-18,11,-16,11,-14,10,-12,10,-27,14,-25,14,-23,13,-21,14,-19,13,-17,13,-15,13,-26,16,-24,16,-22,16,-20,16,-18,15,-16,15,-13,15,-11,14,-25,18,-23,18,-21,18,-19,18,-17,19,-14,18,-12,16,-29,20,-20,20,-17,21,-15,21,-26,-1,-27,-4,-24,-3,-22,4,-20,4,-18,4,-16,3,-14,4,-12,3,-10,1,-9,-1,-8,1,-23,6,-21,6,-19,6,-17,6,-15,6,-13,6,-28,7,-26,6,-24,5,-26,3,-30,10,-32,8,-16,24,-18,23,-15,33,-8,-7,10,32,16,-15,-28,-3];
const g2b=[-27.3,0.8,-23.2,0.4,-20.6,-0.2,-17.4,0.6,-14.6,1.3,-11.6,-0.7,-28.6,-3.8,-24.4,-4.9,-20.3,-4.4,-16.3,-4.2,-12.3,-4.2,-28.2,-6.2,-24.3,-6.9,-20.4,-7.1,-15.3,-6.2,-10.2,-6.7,-25.3,-8.2,-21.3,-9.3,-17.2,-8.2,-13.1,-7.9,-23.2,-11.2,-19.2,-10.8,-15.2,-10.3,-21.1,-13.4,-25.3,-12.6,-28.4,7.9,-24.2,7.6,-20.3,7.3,-16.2,9.7,-12.2,8.3,-27.2,11.3,-23.3,12.3,-19.2,12.2,-15.2,11.7,-25.7,15.1,-21.6,15.2,-17.3,16.7,-13.4,12.4,-24.3,17.2,-20.2,18.7,-15.4,18.8,-22.2,5.3,-18.3,5.2,-14.3,5.1,-10.3,4.4,-8.3,3.2,-25.3,4.2,-21.4,2.8,-17.2,2.6,-13.2,2,-11.4,-3.6,-33.3,-1.7,-30.4,1.7];
const g3=[6,-14,8,-12,10,-12,5,-16,7,-16,9,-15,11,-15,13,-14,15,-13,17,-12,19,-12,21,-11,3,-17,5,-19,7,-18,9,-18,11,-18,13,-17,15,-16,17,-15,19,-15,21,-14,23,-13,25,-11,27,-11,29,-11,3,-19,5,-21,7,-21,9,-20,11,-20,13,-20,15,-19,17,-18,19,-18,21,-17,23,-16,25,-15,27,-14,28,-12,7,-23,9,-23,11,-22,13,-22,15,-22,17,-21,19,-21,21,-20,23,-19,25,-18,27,-19,29,-17,9,-25,11,-25,13,-24,15,-24,17,-24,19,-23,21,-22,23,-21,25,-21,27,-22,11,-27,13,-26,15,-26,17,-26,19,-25,21,-25,23,-24,25,-25,27,-25,12,-29,14,-28,16,-28,18,-28,20,-27,22,-27,24,-27,26,-27,13,-31,15,-30,17,-30,19,-30,21,-29,23,-30,14,-33,16,-32,18,-32,20,-32,15,-34,17,-34,20,-34,23,-33,16,-20,18,-20,14,-18,16,-24,18,-26,14,-24,15,-28,17,-28,16,-26,19,-27,14,-26,18,-10,20,-9,22,-8,24,-7,26,-8,27,-6,17,-8,19,-7,22,-6,23,-10,25,-9,20,-13,22,-12,24,-12,26,-10,-7,-22,-1,-40,4,-41,-2,-37,13,-9,9,-8,5,-10,8,-10,-8,-19,10,-15];
const g3b=[6.3,-19.6,8.2,-17,10.4,-16.7,12.3,-15.4,14.3,-14.7,16.4,-16.2,18.2,-13.3,20.3,-15.6,22.3,-14.6,24.3,-13.8,6.3,-22.4,8.3,-21.8,10.3,-21.2,12.4,-18.8,14.4,-20.6,18.2,-22.3,20.2,-18.8,22.3,-17.7,24.3,-17.2,26.2,-16.6,10.3,-23.8,12.2,-23.3,14.3,-22.8,16.2,-22.6,18.3,-24.6,20.3,-23.8,22.3,-22.6,24.3,-22.8,11.7,-25.8,13.7,-27.3,15.7,-25.2,17.7,-27.3,20.3,-25.8,22.3,-25.7,12.7,-30.2,14.7,-29.3,16.7,-29.2,18.7,-29.2,20.7,-30.8,14.7,-31.6,16.7,-31,18.7,-33.4,19.6,-10.8,21.7,-9.8,23.6,-8.6,25.6,-12.6,15.3,-10.3,17.6,-10.5,19.8,-6.4];
const g4=[-11,-26,-12,-24,-10,-28,-9,-24,-8,-26,-7,-23,-6,-25,-4,-23,-13,-28,-14,-30,-11,-30,-9,-29,-7,-28,-5,-27,-3,-26,-1,-25,1,-24,3,-25,5,-25,7,-26,-8,-31,-6,-30,-4,-29,-2,-28,0,-27,2,-27,4,-27,6,-28,8,-27,10,-28,-9,-33,-7,-33,-5,-32,-3,-31,-1,-30,1,-29,3,-30,5,-30,7,-30,9,-30,11,-30,-8,-35,-6,-35,-4,-34,-2,-33,0,-33,2,-32,4,-32,6,-32,8,-32,10,-33,12,-33,14,-34,-5,-37,-3,-36,-1,-35,1,-35,3,-34,5,-34,7,-35,9,-35,11,-35,13,-35,15,-35,-4,-39,-2,-38,0,-38,2,-37,4,-37,6,-37,8,-37,12,-38,13,-36,1,-39,3,-39,-8,-22,-6,-21,-4,-20,-2,-20,0,-21,2,-21,4,-21,-5,-18,-3,-18,-1,-18,1,-18,3,-19,-3,-16,-1,-15,1,-15,0,-13,2,-14,-9,-19,-7,-19,-11,-21,-9,-17,5,-12,7,-12,8,-13,10,-14,-14,-34,-13,-20,-5,-12,-2,-14,6,-21,7,-23,4,-23,2,-23,0,-23,-2,-23,10,-24,18,-34,20,4,28,-3,27,4];
const g4b=[-10.3,-25.2,-7.3,-24.4,-5.2,-23.6,-3.2,-24.2,-0.3,-23.6,-12.3,-27.2,-8.3,-27.6,-6.3,-28.9,-4.2,-26.8,-1.2,-27.4,1.3,-25.8,3.3,-26.2,5.3,-26.8,-10.3,-31.3,-6.7,-31.8,-3.2,-29.6,-0.4,-31.2,2.3,-30.6,4.3,-31.2,6.3,-29.6,8.2,-28.6,-7.3,-34.2,-3.6,-33.4,-1.2,-32.2,1.2,-33.3,3.3,-33.2,5.2,-33.3,7.2,-33.4,9.3,-31.7,-4.3,-36,-2.3,-34.6,0.3,-36,2.7,-35.7,4.3,-35.6,6.2,-35.8,8.2,-35.8,10.4,-36.7,-1.3,-37.4,1.3,-37.3,5.2,-38.2,7.7,-38.4,-6.3,-22.8,-2.7,-21.6,-0.7,-19.4,1.3,-20.3,-4.7,-16.6,-2.2,-17.2,0.2,-16.4];
const g5=[12,19,14,20,16,21,18,22,20,22,22,24,15,23,18,25,13,17,15,18,17,19,19,19,21,20,23,20,25,18,26,16,12,15,14,16,16,16,18,17,20,17,22,18,24,17,26,14,27,13,13,13,15,14,17,14,19,14,21,15,23,15,25,15,14,11,16,12,18,12,20,12,22,13,24,13,26,12,27,10,15,9,17,10,19,10,21,10,23,11,25,10,27,9,28,8,13,9,17,8,20,8,22,8,24,8,26,7,10,18,8,16,7,14,10,24,12,26,17,27,20,25,6,11,9,4,26,5,25,3,7,-8,21,13,23,13,24,15,25,12,23,9,25,8,22,16,19,16,20,11,22,11,16,18,18,20,21,18];
const g6=[14,4,13,5,12,6,15,3,17,3,19,2,21,0,12,2,14,1,16,1,18,0,20,-1,8,1,10,1,12,0,9,-1,11,-1,13,-1,7,-1,6,-3,8,-3,10,-2,12,-2,14,-3,11,-4,13,-4,15,-5,17,-5,13,-6,15,-7,17,-7,14,-8,16,-8,18,-6,3,-4,4,-5,3,-2,2,-3,20,-3,15,1,17,1,9,0,11,1,13,3,15,-6,16,-5,14,-5];
const g7=[-3,12,-1,11,1,10,3,10,4,9,-2,10,0,9,2,8,3,8,5,8,-1,8,1,8,2,7,4,7,1,6,3,6,5,6,6,7,7,6,6,5,2,5,4,5,8,8,9,8,10,17,-20,-14,9,-5];
const g8=[-5,0,-4,1,-3,2,-4,0,-3,0,-2,1,-1,1,0,0,1,0,2,0,3,0,-3,-1,-2,-1,-1,-1,0,-1,1,-1,2,-2,-5,-2,-4,-2,-2,-3,0,-3,-1,-3,1,-3,-4,-5,-3,-4];
const pG1='5717107501017590357';const pG2='5153750171053572';const pG3='7105072015703019';const pG4='0127510375089723';const pG5='5750715705';const pG6='0705';const pG7='7105';const pG8='0150';
/* ---------- axes ---------- */
const ticksAllX=[-150,-100,-50,0,50,100],ticksAllY=[100,50,0,-50,-100];
const ticksN=[-20,0,20],ticksG=[40,20,0,-20,-40];
const pc1Ticks=['40','20','0'],oxTicks=['1.5','1.0','0.5'];

/* ---------- helpers ---------- */
const MINUS='\u2212',NB='\u00a0';
const flat=a=>{const o=[];for(let i=0;i<a.length;i+=2)o.push({x:a[i],y:a[i+1]});return o};
const quad=a=>{const o=[];for(let i=0;i<a.length;i+=4)o.push({x:a[i],y:a[i+1],pc:a[i+2],ox:a[i+3]});return o};
const ds=(data,color,r)=>({data,backgroundColor:color,borderWidth:0,pointRadius:r,pointHoverRadius:r,clip:false,showLine:false});
function text(x,y,html,cls,extra){const d=document.createElement('div');d.className='t '+cls;d.style.left=x+'px';d.style.top=y+'px';d.innerHTML=html;if(extra)d.style.cssText+=extra;document.body.appendChild(d);return d}
function legend(mx,tx,labels,colors,ys){labels.forEach((l,i)=>{const m=document.createElement('div');m.className='d';m.style.left=(mx-3.5)+'px';m.style.top=(ys[i]-3.5)+'px';m.style.background=colors[i];document.body.appendChild(m);text(tx,ys[i]-9,l,'li')})}
Chart.defaults.font.family='"Liberation Sans",Arial,sans-serif';
Chart.defaults.color='#1a1a1a';
function panel(p){
  const c=document.createElement('canvas');const lw=62,hh=54,top=8,right=8;
  const W=p.R-p.L+lw+right,H=p.B-p.T+top+hh;
  c.width=W;c.height=H;c.style.left=(p.L-lw)+'px';c.style.top=(p.T-top)+'px';c.style.width=W+'px';c.style.height=H+'px';
  document.body.appendChild(c);
  const np=NB.repeat(p.neg||0);
  const fmt=(v,isX)=>(isX&&v<0?np:'')+String(v).replace('-',MINUS);
  const ax=(min,max,ticks,isX,blank,title)=>({type:'linear',min,max,
    afterBuildTicks:s=>{s.ticks=ticks.map(v=>({value:v}))},
    afterFit:s=>{if(isX)s.height=hh;else s.width=lw;s.paddingLeft=s.paddingRight=s.paddingTop=s.paddingBottom=0},
    border:{display:true,color:'#333',width:1.6},
    grid:{display:true,drawOnChartArea:false,drawTicks:true,tickLength:5,color:'#333',lineWidth:1.2},
    ticks:{autoSkip:false,maxRotation:0,minRotation:0,padding:isX?4:3,font:{size:16},color:'#1a1a1a',callback:v=>blank?'':fmt(v,isX)},
    title:{display:!!title,text:title||'',font:{size:19.5},color:'#1a1a1a',padding:0}});
  const xTitle=NB.repeat(p.tl||0)+'tSNE 1'+NB.repeat(p.tr||0);
  new Chart(c,{type:'scatter',data:{datasets:p.datasets.slice().reverse()},options:{responsive:false,animation:false,devicePixelRatio:1,events:[],
    layout:{padding:{top,right,left:0,bottom:0}},
    plugins:{legend:{display:false},tooltip:{enabled:false}},
    scales:{x:ax(p.x[0],p.x[1],p.xt,true,false,xTitle),y:ax(p.y[0],p.y[1],p.yt,false,p.blankY,p.yTitle?'tSNE 2':'')}}});
}
/* all-cells layers: array, colour in a, radius, colour in b */
const allLayers=[[smCore,RED,11,RED],[smRim,RED,6,RED],[smEdge,RED,2.8,RED],[smLower,RED,4,RED],[vascCore,GREEN,12,RED],[vascEdge,GREEN,7,RED],[fibroCore,BLUE,11,RED],[fibroEdge,BLUE,6,RED],[periCore,'#F781BF',10,RED],[lymphCore,'#FFE81A',10,RED],[epiSmall,'#FFD92F',4,RED],[epiStrip,'#FFD92F',3.5,'#66C2A5'],[gliaCore,ORANGE,11,RED],[macroCore,PURPLE,10,RED],[macroSmall,PURPLE,3.5,RED],[tcellCore,TEAL,8,BROWN],[mastCore,'#8DA0CB',8,RED],[monoCore,'#D95F02',3.5,ORANGE],[mpoCore,BROWN,9,ORANGE],[mpoSmall,BROWN,3.5,PURPLE],[sppSmall,'#E7298A',2.5,PURPLE],[sdsCore,'#E5C494',5,PURPLE],[nkxCore,SALMON,7,RED],[adiCore,'#E78AC3',5,RED],[asmtCore,GREY,9,ORANGE],[asmtSmall,GREY,3.5,ORANGE],[neuronCore,'#A6D854',6,TEAL],[has1Small,'#B3B3B3',3,ORANGE],[vegfcSmall,'#7570B3',3,ORANGE],[gliaDots,ORANGE,3,ORANGE],[iccDots,'#1B9E77',3.5,RED],[greyDots,GREY,3,RED]];
const bOverlay=[[b5Core,ORANGE,8.5],[b5Fill,ORANGE,8],[b10Top,TEAL,5],[b3Top,GREEN,4],[b5Far,ORANGE,6],[b5Lower,ORANGE,4],[b7Mix,BROWN,6],[b4Far,PURPLE,5],[b5Dots,ORANGE,2.8],[b7Dots,BROWN,3.2],[b2Dots,BLUE,2.6],[b3Dots,GREEN,2.6],[b4Dots,PURPLE,2.6],[b6Dots,KHAKI,2.6],[b8Dots,LBLUE,2.6],[b9Dots,GREY,2.6],[b10Dots,TEAL,2.8]];
panel({L:78,R:392,T:52,B:368,x:[-151,134.5],y:[-148.3,123.6],xt:ticksAllX,yt:ticksAllY,yTitle:true,tl:1,datasets:allLayers.map(l=>ds(flat(l[0]),l[1],l[2]))});
panel({L:598,R:909,T:52,B:368,x:[-151,140.6],y:[-148.8,140.5],xt:ticksAllX,yt:ticksAllY,tl:2,datasets:allLayers.map(l=>ds(flat(l[0]),l[3],l[2])).concat(bOverlay.map(l=>ds(flat(l[0]),l[1],l[2])))});
/* neurons */
const nSets=[[nPSN,RED,pPSN],[nPIMN1,BLUE,pPIMN1],[nPIMN2,GREEN,pPIMN2],[nPIMN3,PURPLE,pPIMN3],[nPIMN4,ORANGE,pPIMN4],[nPIMN5,KHAKI,pPIMN5],[nPSVN,BROWN,pPSVN],[nPIN1,LBLUE,pPIN1],[nPIN2,GREY,pPIN2],[nPEMN1,TEAL,pPEMN1],[nPEMN2,SALMON,pPEMN2]];
const bySubset=(sets,r)=>sets.map(s=>ds(flat(s[0]),s[1],r));
const byPatient=(sets,r)=>sets.map(s=>ds(flat(s[0]),flat(s[0]).map((_,i)=>patientColors[+s[2][i%s[2].length]]),r));
panel({L:1081,R:1392,T:52,B:369,x:[-37,31.5],y:[-27.7,36.7],xt:ticksN,yt:ticksN,neg:2,tl:3,datasets:bySubset(nSets,2.4)});
panel({L:80,R:392,T:488,B:807,x:[-37,31.5],y:[-27.4,39.3],xt:ticksN,yt:ticksN,neg:3,tl:3,yTitle:true,datasets:byPatient(nSets,2.2)});
panel({L:79,R:328,T:935,B:1204,x:[-37.7,30.9],y:[-28.4,36.9],xt:ticksN,yt:ticksN,tl:5,yTitle:true,datasets:bySubset(nSets,2.5)});
/* glia */
const gSets=[[g1.concat(g1b),RED,pG1],[g2.concat(g2b),BLUE,pG2],[g3.concat(g3b),GREEN,pG3],[g4.concat(g4b),PURPLE,pG4],[g5,ORANGE,pG5],[g6,KHAKI,pG6],[g7,BROWN,pG7],[g8,LBLUE,pG8]];
panel({L:598,R:909,T:487,B:808,x:[-36.5,32.3],y:[-44.5,42],xt:ticksN,yt:ticksG,neg:2,tl:1,datasets:bySubset(gSets,3)});
panel({L:1081,R:1392,T:487,B:808,x:[-36.5,32.3],y:[-44.5,45.8],xt:ticksN,yt:ticksG,neg:2,tl:1,datasets:byPatient(gSets,2.7)});
/* h, i, j */
const hSets=[[hPSN,RED],[hPIMN1,BLUE],[hPIMN2,GREEN],[hPIMN3,PURPLE],[hPIMN4,ORANGE],[hPIMN5,KHAKI],[hPSVN,BROWN],[hPIN1,LBLUE],[hPIN2,GREY],[hPEMN1,TEAL],[hPEMN2,SALMON]];
panel({L:449,R:705,T:935,B:1204,x:[-34.3,37.7],y:[-33.5,31.8],xt:ticksN,yt:ticksN,blankY:true,tr:2,datasets:hSets.map(s=>ds(quad(s[0]),s[1],2.5))});
const stops=[[0,[46,49,146]],[.25,[40,120,200]],[.36,[30,180,210]],[.47,[60,175,80]],[.6,[200,220,40]],[.7,[253,210,30]],[.85,[247,140,30]],[1,[237,28,36]]];
function ramp(t){t=Math.max(0,Math.min(1,t));for(let i=1;i<stops.length;i++){if(t<=stops[i][0]){const a=stops[i-1],b=stops[i],f=(t-a[0])/(b[0]-a[0]);return 'rgb('+a[1].map((v,k)=>Math.round(v+(b[1][k]-v)*f)).join(',')+')'}}return 'rgb(237,28,36)'}
const grad='linear-gradient(to top,'+stops.map(s=>'rgb('+s[1].join(',')+') '+(s[0]*100)+'%').join(',')+')';
const scoreSets=(key,lo,hi)=>hSets.map(s=>{const pts=quad(s[0]);return ds(pts,pts.map(q=>ramp((q[key]-lo)/(hi-lo))),2.5)});
panel({L:821,R:1104,T:935,B:1204,x:[-34.5,37.7],y:[-33.6,32],xt:ticksN,yt:ticksN,blankY:true,neg:2,tr:2,datasets:scoreSets('pc',-15,47)});
panel({L:1190,R:1473,T:935,B:1204,x:[-34.5,37.7],y:[-33.6,32],xt:ticksN,yt:ticksN,blankY:true,neg:2,tr:2,datasets:scoreSets('ox',-.1,1.8)});
/* titles and panel letters */
[['a',10,3],['b',555,2],['c',1040,3],['d',10,442],['e',554,442],['f',1038,442],['g',10,892],['h',415,891],['i',793,891],['j',1162,892]].forEach(l=>text(l[1],l[2],l[0],'ll'));
[['All cells, cell subset',72,17],['All cells, patient ID',592,17],['Neurons, cell subset',1079,17],['Neurons, patient ID',79,456],['Glia, cell subset',594,456],['Glia, patient ID',1078,456],['Initial clustering (PCs 2–15)',72,902],['Initial clustering (PCs 1–15)',451,902],['PC1',822,902],['OXPHOS',1192,902]].forEach(l=>text(l[1],l[2],l[0],'lt'));
/* legends */
text(400,17,'<b>Shared</b>','li','font-size:15.8px');
text(400,277,'<b>Unique</b>','li','font-size:15.8px');
legend(403,414,sharedLabels,sharedColors,[47,63.5,80,96,113,129,146,162,179,195,211,228,244,261]);
legend(403,414,uniqueLabels,uniqueColors,[306,323,340,357,373,389,405]);
legend(921,932,patientLabels,patientLegendColors,[60,76,92,109,125,142,158,175,191,207]);
legend(1407,1418,neuronLabels,neuronColors,[60,76,92,109,125,141,158,175,191,207,224]);
legend(405,415,patientLabels,patientLegendColors,[507,523,539,556,572,589,605,621,638,654]);
legend(921,932,gliaLabels,gliaColors,[507,523,539,556,574,591,607,624]);
legend(1407,1418,patientLabels,patientLegendColors,[507,523,539,556,572,589,605,621,638,654]);
const hYs=[952,968,985,1001,1017,1034,1050,1067,1083,1100,1116];
legend(340,350,neuronLabels,neuronColors,hYs);
legend(714,725,neuronLabels,neuronColors,hYs);
/* colour bars */
function bar(x,lx,tx,labels,ys){const b=document.createElement('div');b.style.cssText='position:absolute;left:'+x+'px;top:1135px;width:15px;height:64px;background:'+grad;document.body.appendChild(b);text(tx,1115,'Score','li','font-size:15.3px');labels.forEach((l,i)=>{text(lx,ys[i]-8,l,'li','font-size:13.5px;line-height:16px');const t=document.createElement('div');t.style.cssText='position:absolute;left:'+(x+12)+'px;top:'+ys[i]+'px;width:3px;height:1px;background:#fff';document.body.appendChild(t)})}
bar(1105,1123,1104,pc1Ticks,[1142,1163,1183]);
bar(1474,1492,1473,oxTicks,[1146,1165,1183]);
</script>
</body></html>
